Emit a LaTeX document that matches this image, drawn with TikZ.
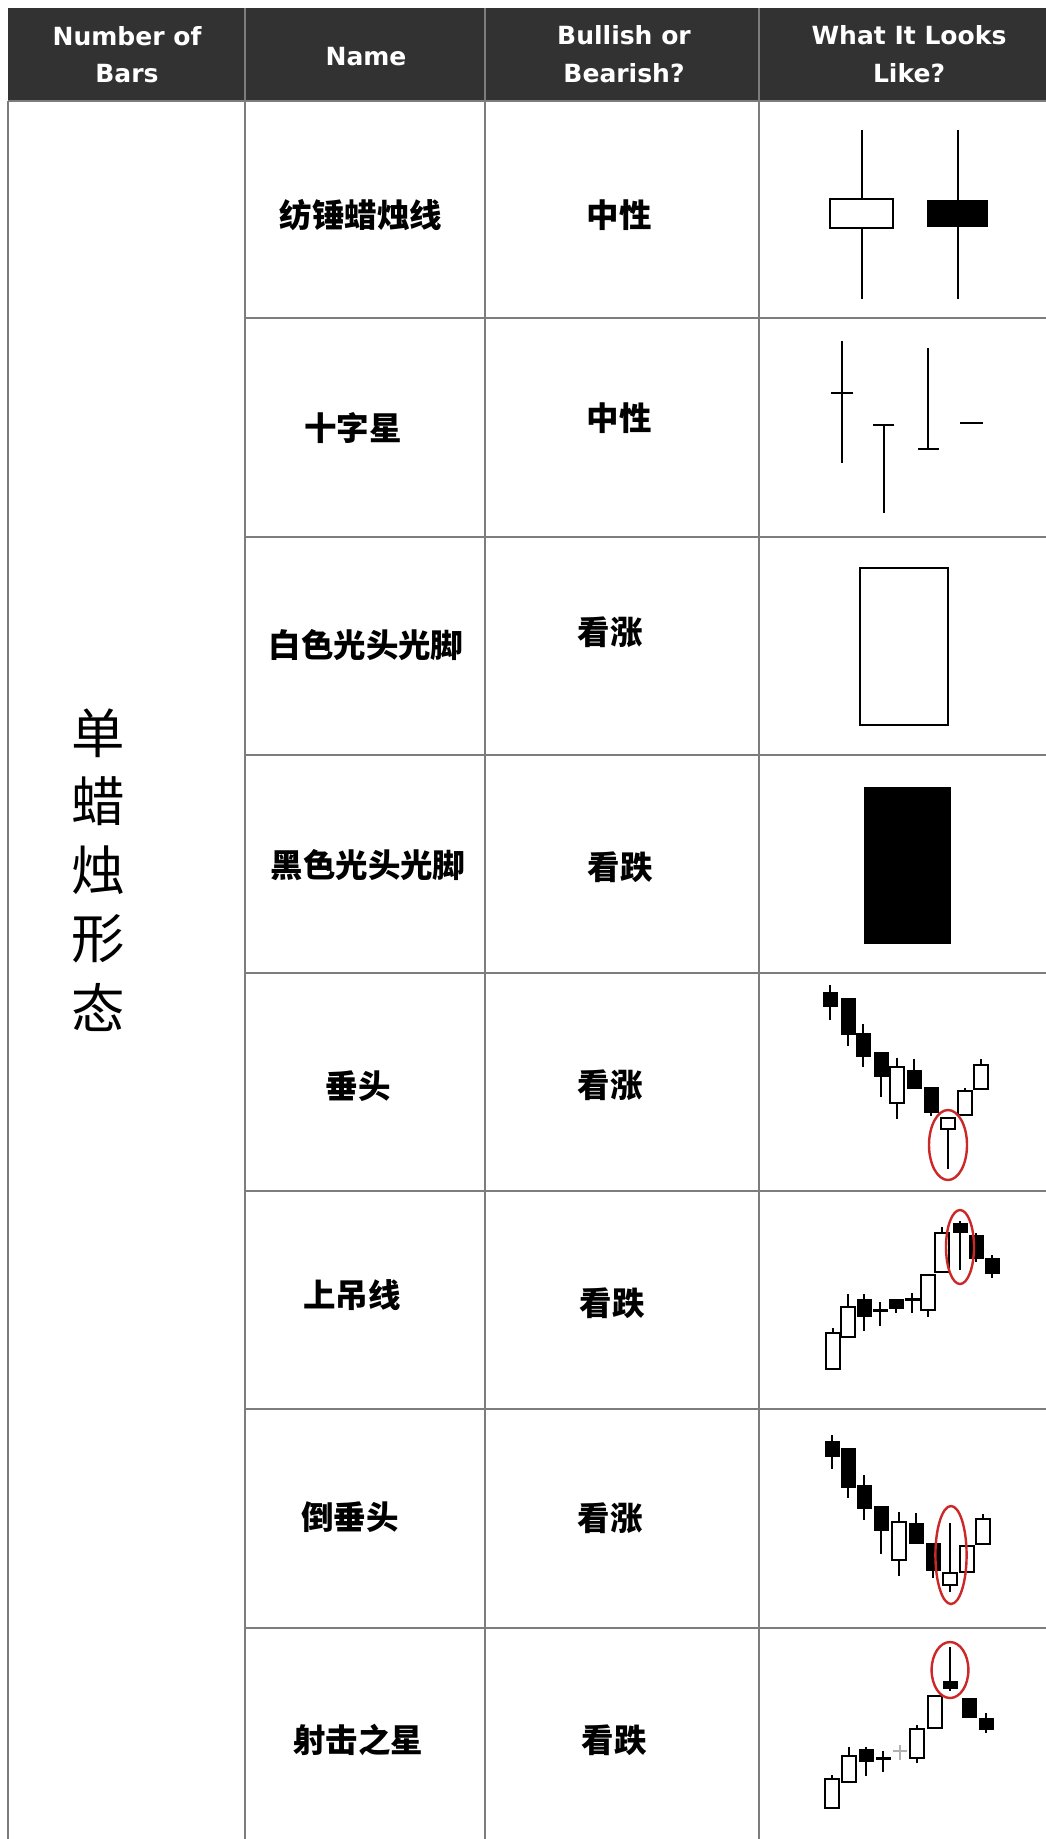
\documentclass[tikz,border=0pt]{standalone}
\usepackage{fontspec}
\usepackage{tikz}
\newfontfamily\headfont{DejaVu Sans}
\newfontfamily\cjk{Noto Sans CJK SC}
\definecolor{headgrey}{RGB}{50,50,50}
\definecolor{linegrey}{RGB}{125,125,125}
\definecolor{ringred}{RGB}{204,40,40}

\newcommand{\candle}[6]{%
  \draw[wick] (#1,#2) -- (#1,#3);
  \draw[#6] (#1-7,#4) rectangle (#1+7,#5);}

\begin{document}
\begin{tikzpicture}[x=0.25mm, y=-0.25mm]
\tikzset{headtext/.style={font=\headfont\bfseries\fontsize{17.8}{20}\selectfont, text=white, inner sep=0, anchor=base},
cntext/.style={font=\cjk\bfseries\fontsize{23.1}{26}\selectfont, inner sep=0},
bigtext/.style={font=\cjk\fontsize{38}{40}\selectfont, inner sep=0},
gridline/.style={draw=linegrey, line width=0.5mm},
bigwick/.style={line width=0.55mm},
wick/.style={line width=0.35mm},
upbar/.style={draw, fill=white, line width=0.35mm},
downbar/.style={fill=black},
ring/.style={draw=ringred, line width=0.6mm}}

\useasboundingbox (0,0) rectangle (1046,1839);

%% Table
\fill[headgrey] (8,8) rectangle (1046,101);
\foreach \cx in {245,485,759} \draw[gridline] (\cx,8) -- (\cx,1839);
\draw[gridline] (8,101) -- (8,1839);
\draw[gridline] (8,101) -- (1046,101);
\foreach \ry in {318,537,755,973,1191,1409,1628} \draw[gridline] (245,\ry) -- (1046,\ry);

%% Header
\node[headtext] (bars1) at (127,46) {Number of};
\node[headtext] (bars2) at (127,83) {Bars};
\node[headtext] (name0) at (366,66) {Name};
\node[headtext] (trend01) at (624,45) {Bullish or};
\node[headtext] (trend02) at (624,83) {Bearish?};
\node[headtext] (look1) at (909,45) {What It Looks};
\node[headtext] (look2) at (909,83) {Like?};

\foreach \ch [count=\i] in {单,蜡,烛,形,态} \node[bigtext] (vert\i) at (98,{733+68.5*(\i-1)}) {\ch};

\foreach \nm/\nx/\ny/\tr/\tx/\ty [count=\i] in {纺锤蜡烛线/361/215/中性/619/215, 十字星/353/428/中性/619/418,
  白色光头光脚/366/645/看涨/610/632, 黑色光头光脚/368/865/看跌/620/867, 垂头/358/1086/看涨/610/1085,
  上吊线/352/1295/看跌/612/1303, 倒垂头/350/1517/看涨/610/1518, 射击之星/358/1740/看跌/614/1740}
{\node[cntext] (name\i) at (\nx,\ny) {\nm};
 \node[cntext] (trend\i) at (\tx,\ty) {\tr};}

%% Spinning tops
\draw[bigwick] (862,130) -- (862,299);
\draw[upbar, line width=0.5mm] (830,199) rectangle (893,228);
\draw[bigwick] (958,130) -- (958,299);
\fill (927,200) rectangle (988,227);

%% Doji
\draw[bigwick] (842,341) -- (842,463) (831,393) -- (853,393);
\draw[bigwick] (884,425) -- (884,513) (873,425) -- (894,425);
\draw[bigwick] (928,348) -- (928,449) (918,449) -- (939,449);
\draw[bigwick] (960,423) -- (983,423);

%% Marubozu
\draw[upbar, line width=0.55mm] (860,568) rectangle (948,725);
\fill (864,787) rectangle (951,944);

%% Hammer
\foreach \cx/\wt/\wb/\bt/\bb/\kind in {830/985/1020/992/1006/downbar, 848/998/1046/998/1034/downbar,
  863/1024/1067/1033/1056/downbar, 881/1052/1097/1052/1076/downbar, 897/1058/1119/1067/1103/upbar,
  914/1059/1088/1070/1088/downbar, 931/1087/1116/1087/1112/downbar, 948/1118/1169/1118/1129/upbar,
  965/1088/1115/1091/1115/upbar, 981/1059/1089/1065/1089/upbar}
  \candle{\cx}{\wt}{\wb}{\bt}{\bb}{\kind};
\draw[ring] (948,1145) ellipse [x radius=4.75mm, y radius=8.75mm];

%% Hanging man
\foreach \cx/\wt/\wb/\bt/\bb/\kind in {833/1328/1369/1333/1369/upbar, 848/1294/1337/1307/1337/upbar,
  864/1294/1331/1299/1316/downbar, 880/1302/1326/1309/1311/downbar, 896/1299/1313/1299/1308/downbar,
  912/1293/1313/1298/1300/downbar, 928/1275/1317/1275/1310/upbar, 942/1227/1272/1233/1272/upbar,
  960/1221/1270/1223/1232/downbar, 976/1233/1262/1235/1258/downbar, 992/1255/1278/1258/1273/downbar}
  \candle{\cx}{\wt}{\wb}{\bt}{\bb}{\kind};
\draw[ring] (960,1247) ellipse [x radius=3.5mm, y radius=9.25mm];

%% Inverted hammer
\foreach \cx/\wt/\wb/\bt/\bb/\kind in {832/1435/1469/1441/1456/downbar, 848/1448/1498/1448/1487/downbar,
  864/1475/1520/1485/1508/downbar, 881/1506/1554/1506/1530/downbar, 899/1512/1576/1522/1560/upbar,
  916/1513/1543/1523/1543/downbar, 933/1543/1578/1543/1570/downbar, 950/1523/1592/1573/1585/upbar,
  967/1546/1572/1546/1572/upbar, 983/1514/1544/1519/1544/upbar}
  \candle{\cx}{\wt}{\wb}{\bt}{\bb}{\kind};
\draw[ring] (951,1555) ellipse [x radius=3.9mm, y radius=12.25mm];

%% Shooting star
\foreach \cx/\wt/\wb/\bt/\bb/\kind in {832/1775/1808/1779/1808/upbar, 849/1747/1782/1756/1782/upbar,
  866/1747/1776/1749/1761/downbar, 883/1751/1772/1757/1759/downbar, 917/1725/1763/1729/1758/upbar,
  935/1696/1728/1696/1728/upbar, 950/1647/1691/1681/1688/downbar, 969/1698/1717/1698/1717/downbar,
  986/1713/1733/1718/1729/downbar}
  \candle{\cx}{\wt}{\wb}{\bt}{\bb}{\kind};
\draw[gray!60, line width=0.35mm] (900,1745) -- (900,1760) (893,1751) -- (907,1751);
\draw[ring] (950,1670) ellipse [x radius=4.6mm, y radius=7mm];

\end{tikzpicture}
\end{document}
